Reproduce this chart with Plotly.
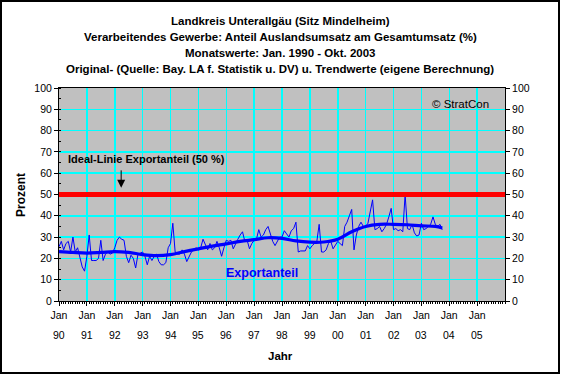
import plotly.graph_objects as go

# ---------------- data ----------------
TITLE_LINES = [
    "Landkreis Unterallgäu (Sitz Mindelheim)",
    "Verarbeitendes Gewerbe: Anteil Auslandsumsatz am Gesamtumsatz (%)",
    "Monatswerte: Jan. 1990 - Okt. 2003",
    "Original- (Quelle: Bay. LA f. Statistik u. DV) u. Trendwerte (eigene Berechnung)",
]

v1990 = [25.5, 28, 24, 27, 28, 23, 30, 23, 25, 21, 16, 14]
v1991 = [21, 31, 19, 19, 19, 20, 28.5, 19, 22, 23, 22, 22.5]
v1992 = [25, 28.5, 30, 29, 28.5, 21, 18, 21.5, 20, 15.5, 22, 22.5]
v1993 = [23, 21, 17, 21, 19, 21, 22, 18.5, 17, 17, 18, 25]
v1994 = [27, 36.5, 23, 22, 22, 24, 22, 18.5, 21, 23, 24, 25]
v1995 = [24, 25, 29, 26, 24, 27, 24, 25, 28, 25, 21, 25]
v1996 = [28.5, 28, 28.5, 24.5, 27, 29, 31, 32.5, 28, 28.5, 24.5, 27]
v1997 = [28.5, 29, 33.5, 30, 31, 33.5, 35, 31.5, 28, 26, 28, 30]
v1998 = [30, 33, 31.5, 30, 33, 34, 37, 23, 23.5, 23.5, 23.5, 26]
v1999 = [24.5, 26, 27, 28, 36, 23, 23, 24, 27, 28, 24.5, 26]
v2000 = [28, 27, 26, 35, 37, 40, 43, 24, 31, 35, 37, 35]
v2001 = [35, 36.5, 42, 47.5, 33.5, 34, 35, 32.5, 34, 36, 39.5, 43.5]
v2002 = [33.5, 34, 33, 33.5, 32.5, 50, 34, 33.5, 36, 32, 30.5, 31]
v2003 = [36.5, 33.5, 34, 35, 36, 39.5, 36, 35, 36, 33.5]

monthly = (v1990 + v1991 + v1992 + v1993 + v1994 + v1995 + v1996
           + v1997 + v1998 + v1999 + v2000 + v2001 + v2002 + v2003)
month_idx = list(range(len(monthly)))  # 0 = Jan 1990

trend_idx = [0, 6, 12, 18, 24, 30, 36, 42, 48, 54, 60, 66, 72, 78, 84, 90,
             96, 102, 108, 114, 120, 126, 132, 138, 144, 150, 156, 162, 165]
trend_val = [23.2, 22.8, 22.5, 22.8, 23.2, 22.8, 21.8, 21.3, 21.8, 23.2, 24.5,
             25.8, 26.8, 28.0, 28.8, 29.7, 29.4, 28.2, 27.6, 27.7, 29.0, 32.5,
             35.0, 36.0, 36.0, 35.8, 35.3, 35.0, 34.3]

IDEAL = 50
year_ticks = [0, 12, 24, 36, 48, 60, 72, 84, 96, 108, 120, 132, 144, 156, 168, 180]
year_labels = ["90", "91", "92", "93", "94", "95", "96", "97", "98", "99",
               "00", "01", "02", "03", "04", "05"]
y_ticks = [0, 10, 20, 30, 40, 50, 60, 70, 80, 90, 100]

# ---------------- figure ----------------
FONT = "Liberation Sans, Arial, sans-serif"
fig = go.Figure()

fig.add_trace(go.Scatter(x=month_idx, y=monthly, mode="lines",
                         line=dict(color="#0000FF", width=1), showlegend=False))
fig.add_trace(go.Scatter(x=trend_idx, y=trend_val, mode="lines",
                         line=dict(color="#0000FF", width=3.2, shape="spline"),
                         showlegend=False))
# dummy trace for right axis
fig.add_trace(go.Scatter(x=[0], y=[0], yaxis="y2", mode="markers",
                         marker=dict(opacity=0), showlegend=False, hoverinfo="skip"))

L, R, T, B = 59, 56, 88, 74
W, H = 561, 375
pw, ph = W - L - R, H - T - B

def px_to_paper_x(px):
    return (px - L) / pw

def px_to_paper_y(py):
    return (H - B - py) / ph

annotations = []
for i, line in enumerate(TITLE_LINES):
    annotations.append(dict(text="<b>%s</b>" % line, xref="paper", yref="paper",
                            x=px_to_paper_x(280), y=px_to_paper_y(21 + 16 * i),
                            showarrow=False, xanchor="center", yanchor="middle",
                            font=dict(size=11.5, color="black", family=FONT)))
for tv, lab in zip(year_ticks, year_labels):
    annotations.append(dict(text=lab, xref="x", yref="paper", x=tv,
                            y=px_to_paper_y(335), showarrow=False,
                            xanchor="center", yanchor="middle",
                            font=dict(size=10.5, color="black", family=FONT)))
annotations += [
    dict(text="<b>Jahr</b>", xref="paper", yref="paper", x=px_to_paper_x(280),
         y=px_to_paper_y(356), showarrow=False, xanchor="center", yanchor="middle",
         font=dict(size=11.5, color="black", family=FONT)),
    dict(text="<b>Prozent</b>", xref="paper", yref="paper", x=px_to_paper_x(21),
         y=px_to_paper_y(195), showarrow=False, textangle=-90, xanchor="center",
         yanchor="middle", font=dict(size=12, color="black", family=FONT)),
    dict(text="<b>Ideal-Linie Exportanteil (50 %)</b>", xref="paper", yref="paper",
         x=px_to_paper_x(146), y=px_to_paper_y(159), showarrow=False,
         xanchor="center", yanchor="middle",
         font=dict(size=11, color="black", family=FONT)),
    dict(text="", x=(121 - L) * 12 / 27.8, y=(301 - 188) / 2.127, xref="x", yref="y",
         showarrow=True, ax=0, ay=-19, arrowhead=2, arrowsize=1.6, arrowwidth=1,
         arrowcolor="black"),
    dict(text="© StratCon", xref="paper", yref="paper", x=px_to_paper_x(460),
         y=px_to_paper_y(104), showarrow=False, xanchor="center", yanchor="middle",
         font=dict(size=11.5, color="black", family=FONT)),
    dict(text="<b>Exportanteil</b>", xref="paper", yref="paper", x=px_to_paper_x(262),
         y=px_to_paper_y(273), showarrow=False, xanchor="center", yanchor="middle",
         font=dict(size=12.5, color="#0000FF", family=FONT)),
]

shapes = [
    dict(type="rect", xref="paper", yref="paper",
         x0=px_to_paper_x(1), x1=px_to_paper_x(W - 2),
         y0=px_to_paper_y(H - 2), y1=px_to_paper_y(1),
         line=dict(color="black", width=2), layer="below"),
    dict(type="line", xref="paper", x0=0, x1=1, yref="y", y0=IDEAL, y1=IDEAL,
         line=dict(color="#FF0000", width=5), layer="above"),
]

fig.update_layout(
    width=W, height=H,
    margin=dict(l=L, r=R, t=T, b=B),
    paper_bgcolor="white",
    plot_bgcolor="#C0C0C0",
    font=dict(family=FONT, size=10.5, color="black"),
    showlegend=False,
    hovermode=False,
    annotations=annotations,
    shapes=shapes,
    xaxis=dict(range=[0, 192], tickmode="array", tickvals=year_ticks,
               ticktext=["Jan"] * len(year_ticks), ticks="outside", ticklen=4,
               tickcolor="black", showline=True, linecolor="black", linewidth=1,
               mirror=True, showgrid=True, gridcolor="#00FFFF", gridwidth=1.5,
               zeroline=False, tickfont=dict(size=10.5),
               minor=dict(dtick=1, ticks="outside", ticklen=2, tickcolor="black",
                          showgrid=False)),
    yaxis=dict(range=[0, 100], tickmode="array", tickvals=y_ticks, ticks="outside",
               ticklen=4, tickcolor="black", showline=True, linecolor="black",
               linewidth=1, mirror=True, showgrid=True, gridcolor="#00FFFF",
               gridwidth=1.5, zeroline=False, tickfont=dict(size=10.5),
               minor=dict(dtick=5, ticks="inside", ticklen=2, tickcolor="black",
                          showgrid=False)),
    yaxis2=dict(range=[0, 100], overlaying="y", side="right", tickmode="array",
                tickvals=y_ticks, ticks="outside", ticklen=4, tickcolor="black",
                showline=True, linecolor="black", showgrid=False, zeroline=False,
                tickfont=dict(size=10.5)),
)

fig.write_html("out.html", config={"displayModeBar": False, "staticPlot": True},
               post_script="document.body.style.margin='0px';document.body.style.padding='0px';")
